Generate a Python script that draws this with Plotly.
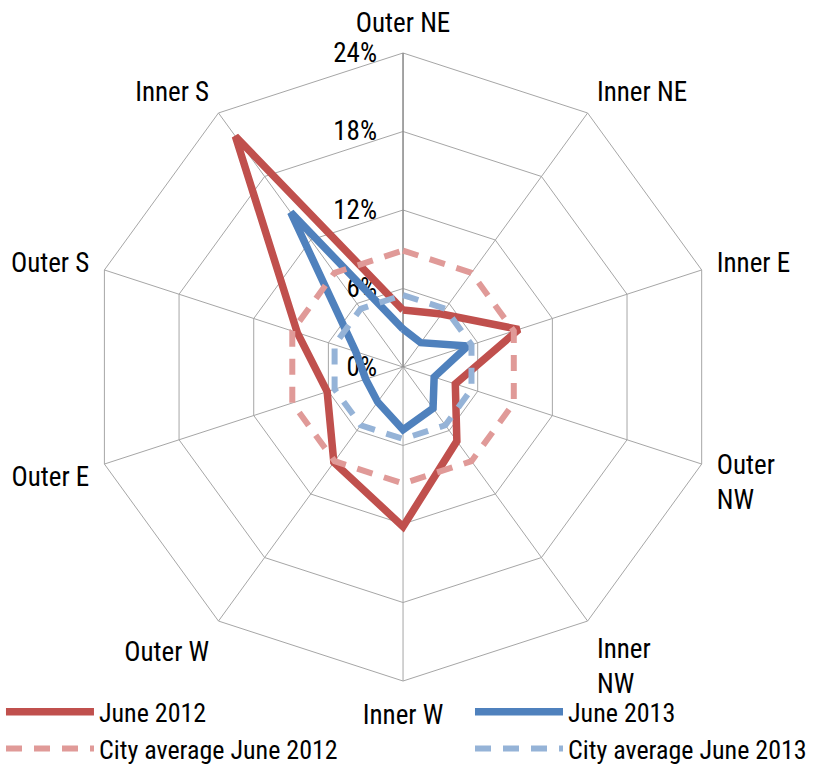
import plotly.graph_objects as go

# ---- data ----
categories = ["Outer NE", "Inner NE", "Inner E", "Outer NW", "Inner NW",
              "Inner W", "Outer W", "Outer E", "Outer S", "Inner S"]
category_labels = ["Outer NE", "Inner NE", "Inner E", "Outer<br>NW", "Inner<br>NW",
                   "Inner W", "Outer W", "Outer E", "Outer S", "Inner S"]

june_2012 = [4.35, 5.0, 9.3, 4.2, 7.0, 12.2, 9.0, 6.1, 8.5, 21.8]
june_2013 = [2.9, 2.3, 5.2, 2.5, 3.9, 4.8, 3.3, 3.0, 3.8, 14.6]
city_avg_2012 = [8.9, 8.9, 8.9, 8.9, 8.9, 8.9, 8.9, 8.9, 8.9, 8.9]
city_avg_2013 = [5.5, 5.5, 5.5, 5.5, 5.5, 5.5, 5.5, 5.5, 5.5, 5.5]

radial_ticks = [0, 6, 12, 18, 24]
radial_tick_labels = ["0%", "6%", "12%", "18%", "24%"]

FONT = "Liberation Sans Narrow, Arial Narrow, Roboto Condensed, sans-serif"


def closed(values):
    return list(values) + [values[0]]


fig = go.Figure()

series = [
    ("June 2012", june_2012, "#C0504D", 7.5, "solid", "legend"),
    ("June 2013", june_2013, "#4F81BD", 7.5, "solid", "legend2"),
    ("City average June 2012", city_avg_2012, "#E09A98", 6, "16px,12px", "legend"),
    ("City average June 2013", city_avg_2013, "#95B3D7", 6, "16px,12px", "legend2"),
]

for name, vals, color, width, dash, leg in series:
    fig.add_trace(go.Scatterpolar(
        r=closed(vals),
        theta=closed(categories),
        mode="lines",
        name=name,
        line=dict(color=color, width=width, dash=dash),
        legend=leg,
        hoverinfo="skip",
    ))

fig.update_layout(
    width=813,
    height=767,
    margin=dict(l=0, r=0, t=0, b=0, autoexpand=False),
    paper_bgcolor="white",
    plot_bgcolor="white",
    font=dict(family=FONT, size=27, color="#000000"),
    polar=dict(
        domain=dict(x=[0.1095, 0.882], y=[0.1121, 0.9309]),
        gridshape="linear",
        bgcolor="white",
        radialaxis=dict(
            range=[0, 24],
            tickmode="array",
            tickvals=radial_ticks,
            ticktext=radial_tick_labels,
            angle=90,
            tickangle=90,
            side="counterclockwise",
            showline=True,
            linecolor="#868686",
            linewidth=1.2,
            gridcolor="#A6A6A6",
            gridwidth=1,
            ticks="outside",
            ticklen=16,
            tickcolor="rgba(0,0,0,0)",
            layer="below traces",
            tickfont=dict(family=FONT, size=27, color="#000000"),
        ),
        angularaxis=dict(
            direction="clockwise",
            rotation=90,
            tickmode="array",
            tickvals=categories,
            ticktext=category_labels,
            showline=True,
            linecolor="#A6A6A6",
            linewidth=1,
            gridcolor="#A6A6A6",
            gridwidth=1,
            ticks="outside",
            ticklen=10,
            tickcolor="rgba(0,0,0,0)",
            layer="below traces",
            tickfont=dict(family=FONT, size=27, color="#000000"),
        ),
    ),
    showlegend=True,
    legend=dict(
        x=0.0012, y=0.1025, xanchor="left", yanchor="top",
        orientation="v", traceorder="normal", itemwidth=88,
        font=dict(family=FONT, size=26, color="#000000"),
        bgcolor="rgba(0,0,0,0)", tracegroupgap=0,
    ),
    legend2=dict(
        x=0.5781, y=0.1025, xanchor="left", yanchor="top",
        orientation="v", traceorder="normal", itemwidth=88,
        font=dict(family=FONT, size=26, color="#000000"),
        bgcolor="rgba(0,0,0,0)", tracegroupgap=0,
    ),
)

fig.write_html(
    "out.html",
    config={"displayModeBar": False},
    post_script="document.body.style.margin='0px'; document.body.style.overflow='hidden';",
)
